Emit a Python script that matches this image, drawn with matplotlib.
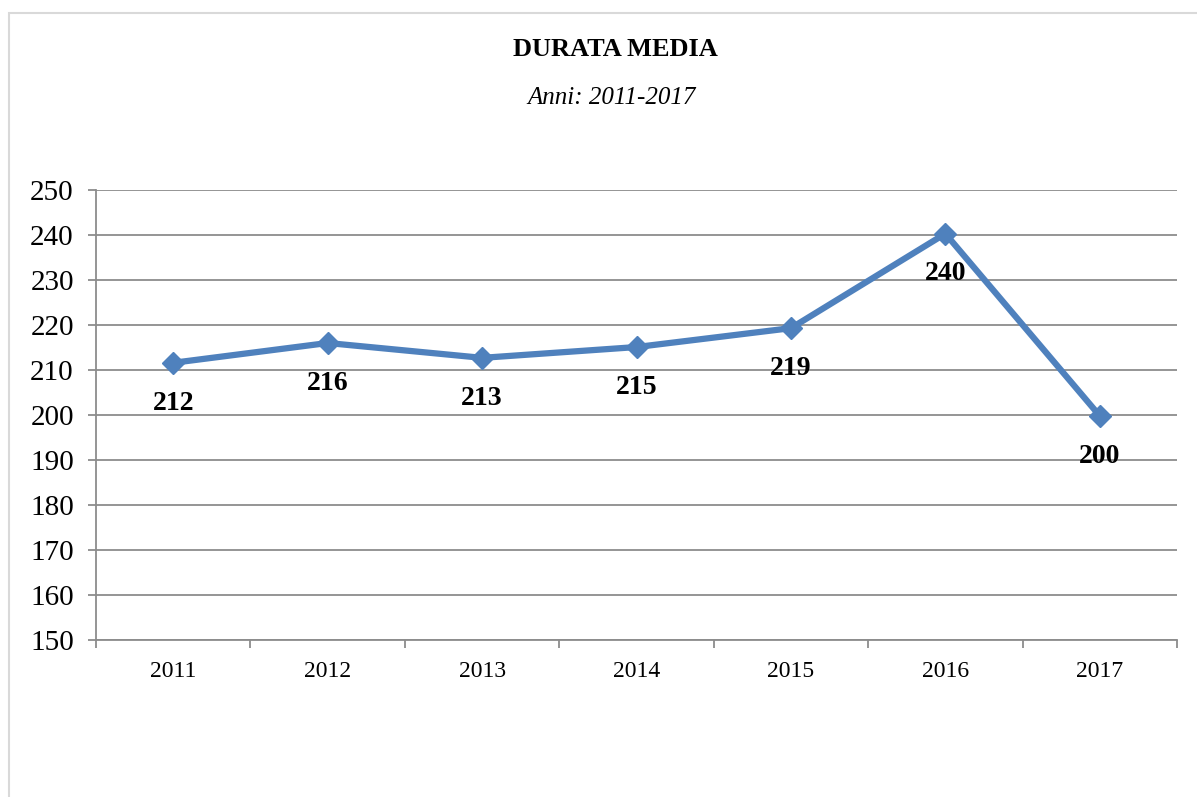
import matplotlib.pyplot as plt
from matplotlib.patches import Rectangle

anni = ['2011', '2012', '2013', '2014', '2015', '2016', '2017']
durata = [211.6, 216.0, 212.7, 215.1, 219.3, 240.3, 199.8]
etichette = ['212', '216', '213', '215', '219', '240', '200']

plt.rcParams['font.family'] = ['Liberation Serif', 'DejaVu Serif']

W, H = 1197, 797
fig = plt.figure(figsize=(W / 100, H / 100), dpi=100)
ax = fig.add_axes([96 / W, 1 - 640 / H, (1177 - 96) / W, (640 - 190) / H])

# outer frame (only left and top visible in the reference)
fig.patches.append(Rectangle((9 / W, -0.1), 1.2, 1 - 13 / H + 0.1, transform=fig.transFigure,
                             fill=False, edgecolor='#d9d9d9', linewidth=1.5))

x = list(range(len(anni)))
ax.plot(x, durata, color='#4f81bd', linewidth=4.5, marker='D', markersize=11, zorder=3)

for xi, yi, t in zip(x, durata, etichette):
    ax.annotate(t, (xi, yi), xytext=(0, -29), textcoords='offset points',
                ha='center', va='center', fontsize=20, fontweight='bold', zorder=4)

ax.set_ylim(150, 250)
ax.set_yticks(range(150, 251, 10))
ax.set_xlim(-0.5, 6.5)
ax.set_xticks(x)
ax.set_xticklabels(anni)
ax.set_xticks([i - 0.5 for i in range(8)], minor=True)
ax.yaxis.grid(True, color='#8c8c8c', linewidth=1.3)
ax.set_axisbelow(True)

for s in ['top', 'right']:
    ax.spines[s].set_visible(False)
for s in ['left', 'bottom']:
    ax.spines[s].set_color('#8c8c8c')
    ax.spines[s].set_linewidth(1.3)

ax.tick_params(axis='y', labelsize=21, length=6, width=1.3, color='#8c8c8c', pad=10)
ax.tick_params(axis='x', which='major', length=0, labelsize=17, pad=15)
ax.tick_params(axis='x', which='minor', length=6, width=1.3, color='#8c8c8c')

fig.text(615 / W, 1 - 50 / H, 'DURATA MEDIA', ha='center', va='center', fontsize=19, fontweight='bold')
fig.text(612 / W, 1 - 98 / H, 'Anni: 2011-2017', ha='center', va='center', fontsize=18, style='italic')

fig.savefig('out.png', dpi=100)
